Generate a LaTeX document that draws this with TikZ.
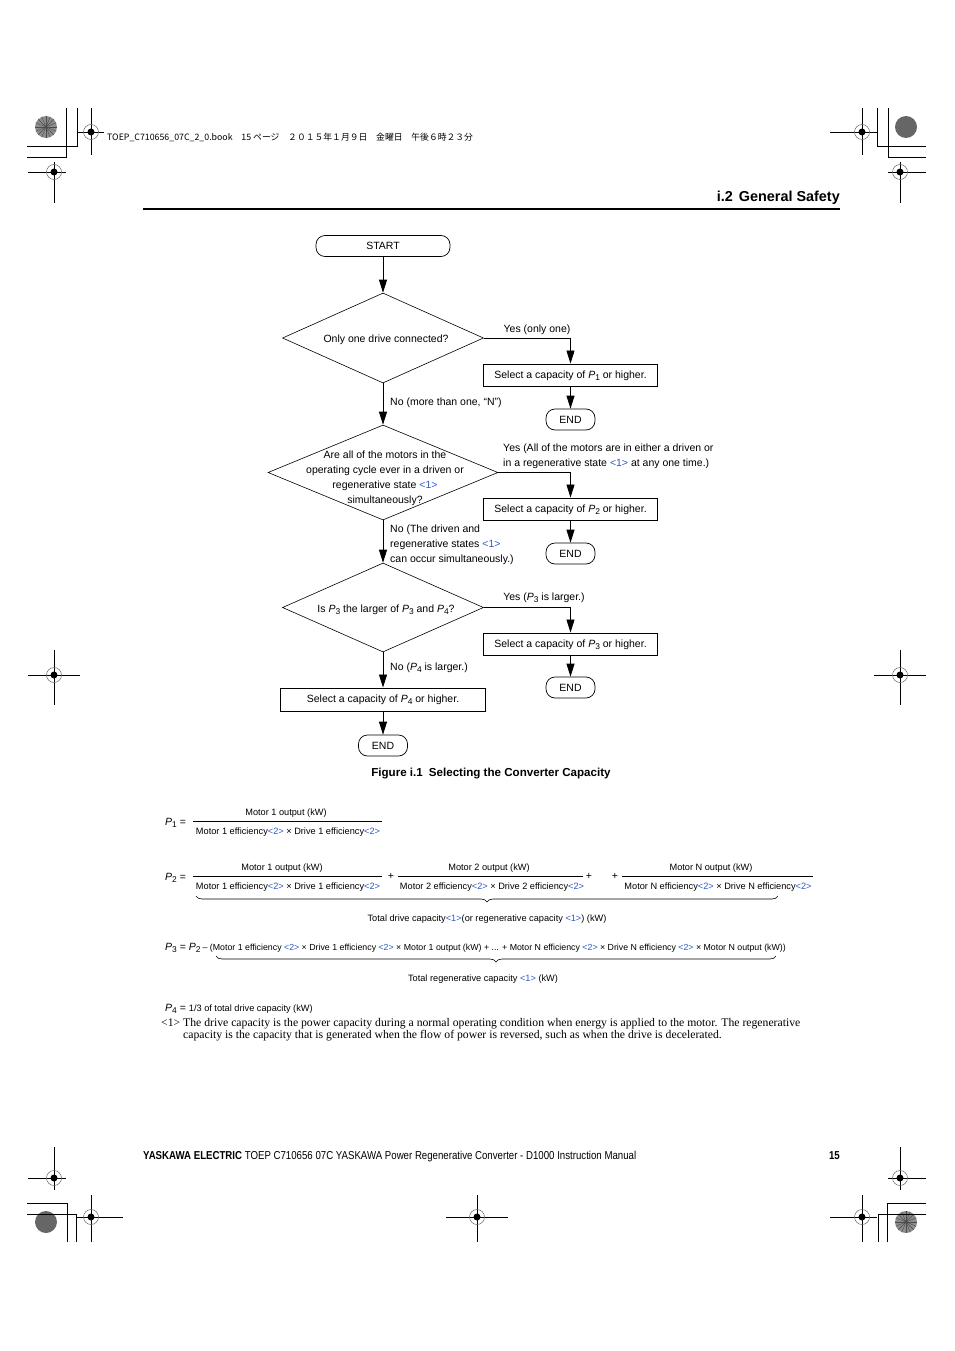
\documentclass[tikz,border=0pt]{standalone}
\usepackage{fontspec}
\setmainfont{Liberation Sans}
\newfontfamily\notefont{Liberation Serif}
\newfontfamily\jpfont{Noto Sans CJK JP}
\newfontfamily\footfont[FakeStretch=0.84]{Liberation Sans}
\usetikzlibrary{shapes.geometric}
\usetikzlibrary{arrows.meta}
\usetikzlibrary{decorations.pathreplacing}
\definecolor{refblue}{RGB}{45,90,200}
\newcommand{\capP}[1]{\textit{P}\raisebox{-0.35ex}{\scalebox{0.8}{#1}}}
\newcommand{\refno}[1]{\textcolor{refblue}{<#1>}}

\begin{document}
\begin{tikzpicture}
[every node/.style={inner sep=0pt},
 flow/.style={font=\fontsize{10.5}{15}\selectfont},
 flowlabel/.style={flow, yshift=-1.5pt},
 terminal/.style={rectangle, rounded corners=9pt, draw=black, line width=0.7pt, minimum height=21pt, text depth=0pt},
 process/.style={rectangle, draw=black, line width=0.9pt, minimum height=22pt, text depth=1pt},
 decision/.style={diamond, draw=black, line width=0.6pt, minimum width=201pt, minimum height=90pt},
 flowarrow/.style={line width=0.8pt, -{Triangle[length=13pt,width=8pt]}},
 formula/.style={font=\fontsize{9.2}{11}\selectfont, yshift=-1.5pt},
 plabel/.style={anchor=west, font=\fontsize{10.5}{12}\selectfont, yshift=-1.5pt},
 fracline/.style={line width=0.6pt},
 regmark/.style={line width=0.7pt}]
\useasboundingbox (0pt,0pt) rectangle (954pt,-1351pt);
\fill [white] (0pt,0pt) rectangle (954pt,-1351pt);

% crop marks
\foreach \cx/\cy in {906/127, 46/1222}
  \fill [black!60] (\cx pt,-\cy pt) circle (11pt);
\foreach \cx/\cy in {46/127, 906/1222}
{
  \fill [black!45] (\cx pt,-\cy pt) circle (11pt);
  \foreach \ang in {0,22.5,...,157.5}
    \draw [line width=0.4pt, black!70] (\cx pt,-\cy pt) ++(\ang:11pt) -- ++(\ang+180:22pt);
}
\draw [regmark] (27pt,-146pt) -- (77pt,-146pt) -- (77pt,-108pt);
\draw [regmark] (27pt,-157pt) -- (66pt,-157pt) -- (66pt,-108pt);
\draw [regmark] (926pt,-146pt) -- (877pt,-146pt) -- (877pt,-108pt);
\draw [regmark] (926pt,-157pt) -- (888pt,-157pt) -- (888pt,-108pt);
\draw [regmark] (27pt,-1214pt) -- (76pt,-1214pt) -- (76pt,-1242pt);
\draw [regmark] (27pt,-1203pt) -- (67pt,-1203pt) -- (67pt,-1242pt);
\draw [regmark] (926pt,-1214pt) -- (878pt,-1214pt) -- (878pt,-1242pt);
\draw [regmark] (926pt,-1203pt) -- (887pt,-1203pt) -- (887pt,-1242pt);
\foreach \cx/\cy/\xa/\xb/\ya/\yb in {91/132/77/104/108/155, 54/172/28/66/162/203,
    862/132/830/877/108/155, 900/172/888/926/162/203,
    54/675/28/80/650/705, 900/675/874/926/650/705,
    54/1178/28/66/1147/1190, 900/1178/888/926/1147/1190,
    91/1217/77/123/1195/1242, 862/1217/830/877/1195/1242, 477/1217/446/508/1195/1242}
{
  \draw [regmark] (\xa pt,-\cy pt) -- (\xb pt,-\cy pt);
  \draw [regmark] (\cx pt,-\ya pt) -- (\cx pt,-\yb pt);
  \draw [line width=0.5pt, black!60] (\cx pt,-\cy pt) circle (7.5pt);
  \fill [black] (\cx pt,-\cy pt) circle (3.5pt);
}
\node (bookinfo) [anchor=base west, font=\jpfont\fontsize{8.8}{10}\selectfont] at (107pt,-141pt)
  {TOEP\_C710656\_07C\_2\_0.book　15 ページ　２０１５年１月９日　金曜日　午後６時２３分};

% header
\node (header) [anchor=base east, font=\fontsize{14.4}{16}\bfseries\selectfont] at (840pt,-201pt) {i.2\hspace{6pt}General Safety};
\draw [line width=2pt] (143pt,-209pt) -- (840pt,-209pt);

% flowchart
\node (start) [terminal, minimum width=134pt, flow] at (383pt, -246pt) {START};
\node (d1) [decision] at (383pt, -338pt) {};
\node (d1text) [flowlabel] at (386pt, -338pt) {Only one drive connected?};
\node (s1) [process, minimum width=174pt, flow] at (570.5pt, -375pt) {Select a capacity of \capP{1} or higher.};
\node (e1) [terminal, minimum width=49pt, flow] at (570.5pt, -419.5pt) {END};
\node (d1yes) [flowlabel] at (537pt, -328pt) {Yes (only one)};
\node (d1no) [flowlabel, anchor=west] at (390pt, -401pt) {No (more than one, “N”)};

\node (d2) [decision, minimum width=230pt, minimum height=95pt] at (383pt, -472.5pt) {};
\node (d2text) [flowlabel, align=center] at (385pt, -477pt) {Are all of the motors in the\\operating cycle ever in a driven or\\regenerative state \refno{1}\\simultaneously?};
\node (s2) [process, minimum width=174pt, flow] at (570.5pt, -509pt) {Select a capacity of \capP{2} or higher.};
\node (e2) [terminal, minimum width=49pt, flow] at (570.5pt, -553.5pt) {END};
\node (d2yes) [flowlabel, align=left, anchor=west] at (503pt, -455pt) {Yes (All of the motors are in either a driven or\\in a regenerative state \refno{1} at any one time.)};
\node (d2no) [flowlabel, align=left, anchor=west] at (390pt, -543pt) {No (The driven and\\regenerative states \refno{1}\\can occur simultaneously.)};

\node (d3) [decision, minimum height=89pt] at (383pt, -607.5pt) {};
\node (d3text) [flowlabel] at (386pt, -608pt) {Is \capP{3} the larger of \capP{3} and \capP{4}?};
\node (s3) [process, minimum width=174pt, flow] at (570.5pt, -644pt) {Select a capacity of \capP{3} or higher.};
\node (e3) [terminal, minimum width=49pt, flow] at (570.5pt, -687.5pt) {END};
\node (d3yes) [flowlabel] at (544pt, -596pt) {Yes (\capP{3} is larger.)};
\node (d3no) [flowlabel, anchor=west] at (390pt, -666pt) {No (\capP{4} is larger.)};

\node (s4) [process, minimum width=205pt, minimum height=23pt, flow] at (383pt, -699.5pt) {Select a capacity of \capP{4} or higher.};
\node (e4) [terminal, minimum width=49pt, flow] at (383pt, -745.5pt) {END};

\draw [flowarrow] (start) -- (d1);
\draw [flowarrow] (d1.east) -| (s1.north);
\draw [flowarrow] (s1) -- (e1);
\draw [flowarrow] (d1) -- (d2);
\draw [flowarrow] (d2.east) -| (s2.north);
\draw [flowarrow] (s2) -- (e2);
\draw [flowarrow] (d2) -- (d3);
\draw [flowarrow] (d3.east) -| (s3.north);
\draw [flowarrow] (s3) -- (e3);
\draw [flowarrow] (d3) -- (s4);
\draw [flowarrow] (s4) -- (e4);

\node (caption) [font=\fontsize{11.6}{13}\bfseries\selectfont, yshift=-1.5pt] at (491pt, -772pt) {Figure i.1\hspace{6pt}Selecting the Converter Capacity};

% formulas
\node (p1) [plabel] at (165pt, -821pt) {\capP{1} =};
\draw [fracline] (193pt,-821pt) -- (382pt,-821pt);
\node (p1num) [formula] at (286pt, -812pt) {Motor 1 output (kW)};
\node (p1den) [formula] at (288pt, -831pt) {Motor 1 efficiency\refno{2} × Drive 1 efficiency\refno{2}};

\node (p2) [plabel] at (165pt, -876pt) {\capP{2} =};
\draw [fracline] (193pt,-876pt) -- (382pt,-876pt);
\node (p2num1) [formula] at (282pt, -867pt) {Motor 1 output (kW)};
\node (p2den1) [formula] at (288pt, -886pt) {Motor 1 efficiency\refno{2} × Drive 1 efficiency\refno{2}};
\node (plus1) [plabel, anchor=center] at (391pt, -875pt) {+};
\draw [fracline] (398pt,-876pt) -- (583pt,-876pt);
\node (p2num2) [formula] at (489pt, -867pt) {Motor 2 output (kW)};
\node (p2den2) [formula] at (492pt, -886pt) {Motor 2 efficiency\refno{2} × Drive 2 efficiency\refno{2}};
\node (plus2) [plabel, anchor=center] at (589pt, -875pt) {+};
\node (plus3) [plabel, anchor=center] at (615pt, -875pt) {+};
\draw [fracline] (622pt,-876pt) -- (813pt,-876pt);
\node (p2numn) [formula] at (711pt, -867pt) {Motor N output (kW)};
\node (p2denn) [formula] at (718pt, -886pt) {Motor N efficiency\refno{2} × Drive N efficiency\refno{2}};
\draw [fracline, decorate, decoration={brace, mirror, amplitude=6pt}] (196pt,-896pt) -- (778pt,-896pt);
\node (p2sum) [formula] at (487pt, -918pt) {Total drive capacity\refno{1}(or regenerative capacity \refno{1}) (kW)};

\node (p3) [plabel] at (165pt, -946pt) {\capP{3} =\hspace{3pt}\capP{2}\hspace{2pt}{\fontsize{8.8}{11}\selectfont – (Motor 1 efficiency \refno{2} × Drive 1 efficiency \refno{2} × Motor 1 output (kW) + ... + Motor N efficiency \refno{2} × Drive N efficiency \refno{2} × Motor N output (kW))}};
\draw [fracline, decorate, decoration={brace, mirror, amplitude=6pt}] (216pt,-956pt) -- (776pt,-956pt);
\node (p3sum) [formula] at (483pt, -978pt) {Total regenerative capacity \refno{1} (kW)};

\node (p4) [plabel] at (165pt, -1007pt) {\capP{4} =\hspace{3pt}{\fontsize{9.2}{11}\selectfont 1/3 of total drive capacity (kW)}};

\node (note1) [anchor=base west, font=\notefont\fontsize{11.7}{13}\selectfont] at (161pt, -1026pt) {<1> The drive capacity is the power capacity during a normal operating condition when energy is applied to the motor. The regenerative};
\node (note2) [anchor=base west, font=\notefont\fontsize{11.7}{13}\selectfont] at (183pt, -1038pt) {capacity is the capacity that is generated when the flow of power is reversed, such as when the drive is decelerated.};

% footer
\node (footer) [anchor=base west, font=\footfont\fontsize{11.5}{13}\selectfont] at (143pt, -1159pt) {\textbf{YASKAWA ELECTRIC} TOEP C710656 07C YASKAWA Power Regenerative Converter - D1000 Instruction Manual};
\node (pageno) [anchor=base east, font=\footfont\fontsize{11.5}{13}\bfseries\selectfont] at (840pt, -1159pt) {15};

\end{tikzpicture}
\end{document}
